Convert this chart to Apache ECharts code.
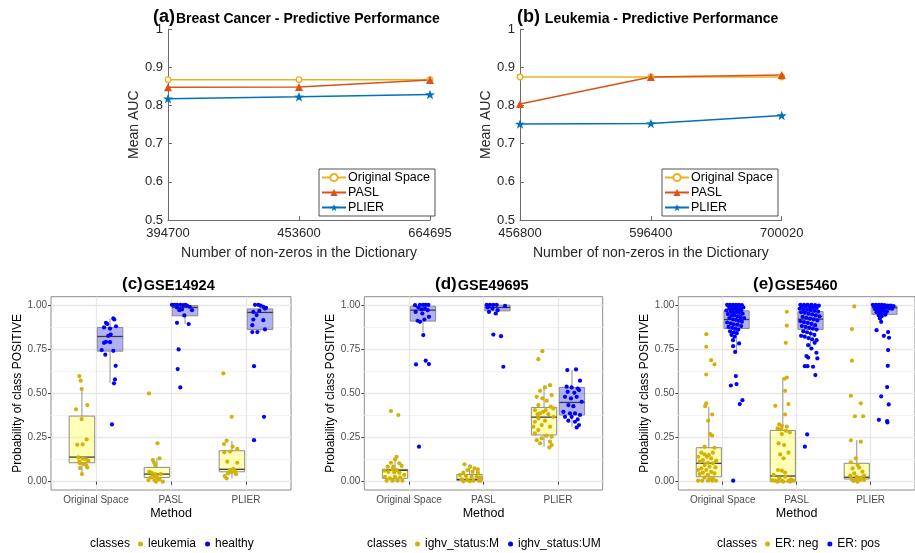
<!DOCTYPE html>
<html>
<head>
<meta charset="utf-8">
<script src="https://cdn.jsdelivr.net/npm/echarts@6/dist/echarts.min.js"></script>
<style>
  html, body { margin: 0; padding: 0; background: #fff; }
  #chart { width: 915px; height: 553px; }
</style>
</head>
<body>
<div id="chart"></div>
<script>
// ---------- (a) Breast cancer: mean AUC vs. dictionary non-zeros ----------
const breastTicks = ['394700', '453600', '664695'];
const breastOriginal = [0.868, 0.868, 0.868];
const breastPasl = [0.848, 0.849, 0.867];
const breastPlier = [0.818, 0.823, 0.829];

// ---------- (b) Leukemia: mean AUC vs. dictionary non-zeros ----------
const leukTicks = ['456800', '596400', '700020'];
const leukOriginal = [0.875, 0.875, 0.875];
const leukPasl = [0.804, 0.875, 0.880];
const leukPlier = [0.752, 0.753, 0.774];

// ---------- shared bits of the box panels ----------
const methods = ['Original Space', 'PASL', 'PLIER'];
const probTicks = [0, 0.25, 0.5, 0.75, 1];
const probMinorTicks = [0.125, 0.375, 0.625, 0.875];

// box stats per method: [lower whisker, q1, median, q3, upper whisker]
// points per method: [jittered x position, probability]

// ---------- (c) GSE14924 ----------
const gse14924LeukemiaBox = [[0.047, 0.107, 0.139, 0.371, 0.527], [0, 0.024, 0.043, 0.081, 0.132], [0.019, 0.056, 0.07, 0.175, 0.232]];
const gse14924HealthyBox = [[0.556, 0.738, 0.821, 0.872, 0.923], [0.891, 0.938, 0.985, 0.996, 1.0], [0.846, 0.861, 0.957, 0.977, 1.0]];
const gse14924Leukemia = [
  [[0.778,0.597],[0.796,0.571],[0.809,0.524],[0.733,0.409],[0.884,0.433],[0.809,0.354],[0.876,0.239],[0.751,0.209],[0.822,0.211],[0.764,0.137],[0.822,0.130],[0.867,0.126],[0.898,0.119],[0.778,0.113],[0.787,0.104],[0.84,0.10],[0.787,0.077],[0.867,0.094],[0.884,0.081],[0.813,0.043]],
  [[1.707,0.499],[1.82,0.217],[1.847,0.132],[1.758,0.122],[1.776,0.107],[1.789,0.094],[1.711,0.056],[1.742,0.051],[1.787,0.043],[1.809,0.032],[1.756,0.028],[1.847,0.013],[1.891,0.0],[1.778,0.009],[1.827,0.019],[1.733,0.024],[1.864,0.043],[1.7,0.009],[1.80,0.0]],
  [[2.698,0.612],[2.809,0.367],[2.742,0.232],[2.707,0.213],[2.822,0.198],[2.884,0.185],[2.711,0.166],[2.787,0.17],[2.751,0.113],[2.884,0.107],[2.787,0.066],[2.831,0.072],[2.853,0.06],[2.809,0.053],[2.867,0.043],[2.76,0.047],[2.716,0.032],[2.742,0.019]]
];
const gse14924Healthy = [
  [[1.231,0.923],[1.244,0.917],[1.133,0.898],[1.151,0.891],[1.107,0.872],[1.187,0.866],[1.267,0.879],[1.164,0.825],[1.196,0.832],[1.107,0.785],[1.133,0.791],[1.187,0.789],[1.076,0.744],[1.231,0.740],[1.124,0.718],[1.262,0.655],[1.253,0.578],[1.24,0.556],[1.213,0.324]],
  [[2.013,1.0],[2.044,1.0],[2.08,1.0],[2.124,1.0],[2.16,0.998],[2.191,1.0],[2.213,0.996],[2.249,0.989],[2.28,0.97],[2.08,0.985],[2.147,0.974],[2.111,0.97],[2.178,0.94],[2.236,0.891],[2.08,0.898],[2.102,0.748],[2.089,0.637],[2.124,0.533]],
  [[3.12,1.0],[3.164,1.0],[3.196,0.996],[3.231,0.989],[3.267,0.983],[3.098,0.96],[3.178,0.966],[3.253,0.979],[3.142,0.942],[3.098,0.917],[3.231,0.913],[3.084,0.885],[3.253,0.861],[3.084,0.846],[3.151,0.846],[3.107,0.653],[3.24,0.367],[3.107,0.235]]
];

// ---------- (d) GSE49695 ----------
const gse49695MBox = [[0, 0.019, 0.064, 0.07, 0.132], [0, 0.006, 0.013, 0.041, 0.098], [0.198, 0.264, 0.365, 0.42, 0.546]];
const gse49695UMBox = [[0.844, 0.908, 0.97, 0.992, 1.0], [0.94, 0.966, 0.985, 0.998, 1.0], [0.311, 0.377, 0.448, 0.533, 0.631]];
const gse49695M = [
  [[0.758,0.399],[0.857,0.377],[0.758,0.107],[0.812,0.126],[0.834,0.141],[0.87,0.104],[0.714,0.085],[0.79,0.085],[0.902,0.089],[0.776,0.07],[0.834,0.066],[0.723,0.056],[0.803,0.053],[0.87,0.051],[0.678,0.028],[0.745,0.019],[0.812,0.028],[0.879,0.024],[0.70,0.006],[0.776,0.006],[0.848,0.006],[0.911,0.006],[0.937,0.038],[0.669,0.062]],
  [[1.745,0.098],[1.821,0.085],[1.879,0.075],[1.924,0.07],[1.785,0.066],[1.852,0.056],[1.73,0.051],[1.924,0.051],[1.685,0.038],[1.765,0.032],[1.841,0.028],[1.908,0.028],[1.953,0.024],[1.707,0.013],[1.783,0.009],[1.863,0.006],[1.939,0.006],[1.96,0.006],[1.73,0.002],[1.819,0.002]],
  [[2.79,0.738],[2.736,0.693],[2.893,0.546],[2.826,0.533],[2.759,0.514],[2.915,0.49],[2.714,0.48],[2.79,0.471],[2.848,0.458],[2.736,0.433],[2.902,0.424],[2.69,0.405],[2.803,0.395],[2.759,0.386],[2.87,0.382],[2.937,0.367],[2.736,0.358],[2.69,0.339],[2.826,0.345],[2.781,0.32],[2.893,0.311],[2.736,0.292],[2.69,0.273],[2.848,0.26],[2.915,0.254],[2.781,0.245],[2.714,0.235],[2.893,0.226],[2.759,0.217],[2.915,0.207],[2.883,0.194],[2.835,0.405],[2.727,0.382],[2.937,0.414],[2.669,0.311]]
];
const gse49695UM = [
  [[1.081,0.998],[1.148,1.0],[1.192,1.0],[1.224,1.0],[1.26,1.0],[1.125,0.985],[1.17,0.974],[1.215,0.979],[1.251,0.97],[1.089,0.96],[1.179,0.951],[1.268,0.932],[1.116,0.91],[1.148,0.904],[1.206,0.917],[1.192,0.829],[1.224,0.684],[1.268,0.665],[1.094,0.663],[1.134,0.198]],
  [[2.043,1.0],[2.087,1.0],[2.132,1.0],[2.177,1.0],[2.289,0.994],[2.056,0.985],[2.119,0.979],[2.19,0.97],[2.074,0.96],[2.163,0.951],[2.132,0.832],[2.235,0.823],[2.266,0.65]],
  [[3.125,0.631],[3.242,0.635],[3.295,0.571],[3.116,0.537],[3.183,0.533],[3.264,0.527],[3.13,0.508],[3.219,0.503],[3.282,0.518],[3.094,0.48],[3.174,0.471],[3.251,0.48],[3.318,0.452],[3.139,0.433],[3.206,0.427],[3.072,0.395],[3.161,0.386],[3.228,0.386],[3.295,0.377],[3.094,0.367],[3.183,0.367],[3.264,0.352],[3.139,0.345],[3.228,0.339],[3.282,0.32],[3.251,0.307]]
];

// ---------- (e) GSE5460 ----------
const gse5460NegBox = [[0, 0.028, 0.104, 0.192, 0.424], [0, 0, 0.032, 0.29, 0.588], [0.004, 0.015, 0.025, 0.104, 0.234]];
const gse5460PosBox = [[0.734, 0.866, 0.917, 0.966, 1.0], [0.744, 0.861, 0.919, 0.962, 1.0], [0.93, 0.946, 0.983, 0.993, 0.998]];
const gse5460Neg = [
  [[0.778,0.834],[0.778,0.763],[0.844,0.687],[0.889,0.663],[0.778,0.606],[0.778,0.443],[0.764,0.427],[0.804,0.345],[0.858,0.38],[0.831,0.269],[0.858,0.26],[0.756,0.198],[0.889,0.192],[0.711,0.164],[0.756,0.154],[0.813,0.151],[0.867,0.164],[0.667,0.141],[0.787,0.141],[0.844,0.132],[0.733,0.122],[0.911,0.119],[0.689,0.113],[0.8,0.107],[0.867,0.104],[0.756,0.094],[0.822,0.085],[0.711,0.075],[0.902,0.081],[0.667,0.066],[0.778,0.066],[0.844,0.056],[0.733,0.051],[0.889,0.047],[0.689,0.043],[0.8,0.038],[0.756,0.024],[0.867,0.019],[0.667,0.006],[0.724,0.006],[0.8,0.006],[0.858,0.006],[0.911,0.006],[0.822,0.013]],
  [[1.867,0.961],[1.867,0.883],[1.853,0.785],[1.867,0.589],[1.836,0.582],[1.711,0.429],[1.889,0.439],[1.844,0.514],[1.844,0.38],[1.764,0.324],[1.8,0.316],[1.867,0.311],[1.742,0.301],[1.787,0.296],[1.853,0.288],[1.907,0.279],[1.8,0.269],[1.756,0.217],[1.831,0.207],[1.778,0.154],[1.889,0.164],[1.822,0.132],[1.747,0.066],[1.8,0.062],[1.844,0.051],[1.689,0.038],[1.764,0.019],[1.711,0.006],[1.8,0.006],[1.889,0.006],[1.956,0.006],[1.667,0.009],[1.844,0.028],[1.924,0.013],[1.742,0.0],[1.82,0.0],[1.911,0.0]],
  [[2.779,0.991],[2.747,0.863],[2.747,0.684],[2.733,0.486],[2.867,0.443],[2.787,0.37],[2.899,0.37],[2.733,0.234],[2.867,0.226],[2.8,0.132],[2.733,0.11],[2.823,0.094],[2.756,0.075],[2.845,0.079],[2.889,0.057],[2.779,0.047],[2.725,0.034],[2.813,0.028],[2.867,0.023],[2.912,0.034],[2.743,0.015],[2.8,0.01],[2.859,0.01],[2.912,0.01],[2.769,0.004],[2.823,0.0]]
];
const gse5460Pos = [
  [[1.06,1.0],[1.10,1.0],[1.14,1.0],[1.18,1.0],[1.22,1.0],[1.26,0.998],[1.08,0.995],[1.12,0.993],[1.16,0.99],[1.20,0.992],[1.24,0.988],[1.28,0.985],[1.09,0.98],[1.13,0.975],[1.17,0.978],[1.21,0.972],[1.25,0.97],[1.05,0.968],[1.11,0.962],[1.15,0.958],[1.19,0.96],[1.23,0.955],[1.27,0.95],[1.07,0.948],[1.12,0.94],[1.16,0.942],[1.2,0.935],[1.24,0.93],[1.29,0.925],[1.09,0.925],[1.14,0.918],[1.18,0.915],[1.22,0.91],[1.26,0.905],[1.06,0.9],[1.11,0.895],[1.15,0.89],[1.2,0.888],[1.25,0.88],[1.08,0.875],[1.13,0.87],[1.17,0.865],[1.21,0.86],[1.1,0.85],[1.15,0.845],[1.19,0.84],[1.12,0.83],[1.16,0.82],[1.14,0.8],[1.222,0.782],[1.142,0.766],[1.169,0.734],[1.178,0.597],[1.187,0.552],[1.111,0.544],[1.267,0.461],[1.231,0.439],[1.142,0.006]],
  [[2.05,1.0],[2.1,1.0],[2.15,1.0],[2.2,1.0],[2.25,0.998],[2.3,0.995],[2.07,0.99],[2.12,0.992],[2.17,0.988],[2.22,0.985],[2.27,0.982],[2.04,0.978],[2.09,0.975],[2.14,0.972],[2.19,0.97],[2.24,0.966],[2.29,0.962],[2.06,0.958],[2.11,0.955],[2.16,0.95],[2.21,0.946],[2.26,0.94],[2.31,0.935],[2.08,0.932],[2.13,0.928],[2.18,0.922],[2.23,0.918],[2.28,0.912],[2.05,0.908],[2.1,0.902],[2.15,0.898],[2.2,0.892],[2.25,0.885],[2.07,0.88],[2.12,0.875],[2.17,0.87],[2.22,0.865],[2.27,0.86],[2.09,0.85],[2.14,0.845],[2.19,0.838],[2.24,0.83],[2.06,0.825],[2.11,0.82],[2.16,0.812],[2.21,0.805],[2.27,0.8],[2.244,0.785],[2.156,0.772],[2.2,0.753],[2.267,0.729],[2.133,0.71],[2.156,0.702],[2.28,0.697],[2.111,0.653],[2.147,0.653],[2.222,0.65],[2.253,0.603],[2.142,0.267],[2.111,0.198]],
  [[3.03,1.0],[3.07,1.0],[3.11,1.0],[3.15,1.0],[3.19,0.998],[3.23,0.996],[3.27,0.995],[3.31,0.993],[3.05,0.992],[3.09,0.99],[3.13,0.988],[3.17,0.985],[3.21,0.983],[3.25,0.98],[3.29,0.978],[3.06,0.975],[3.1,0.972],[3.14,0.97],[3.18,0.966],[3.22,0.962],[3.08,0.958],[3.12,0.954],[3.16,0.95],[3.2,0.945],[3.11,0.94],[3.15,0.935],[3.13,0.93],[3.125,0.923],[3.143,0.904],[3.08,0.857],[3.236,0.846],[3.179,0.825],[3.249,0.814],[3.236,0.744],[3.232,0.655],[3.223,0.535],[3.143,0.482],[3.245,0.437],[3.112,0.35],[3.223,0.343],[3.227,0.335]]
];

// ---------------------------------------------------------------------------
const FONT = '"Liberation Sans", Arial, Helvetica, sans-serif';
const TEXT = '#262626';
const STAR = 'path://M0,-10 L2.35,-3.24 L9.51,-3.09 L3.8,1.24 L5.88,8.09 L0,4 L-5.88,8.09 L-3.8,1.24 L-9.51,-3.09 L-2.35,-3.24 Z';
const C_ORIG = '#EDB120', C_PASL = '#D95319', C_PLIER = '#0072BD';
const GOLD = '#D4B00A', BLUE = '#0000FF';

const option = {
  animation: false,
  backgroundColor: '#fff',
  textStyle: { fontFamily: FONT },
  title: [], legend: [], grid: [], xAxis: [], yAxis: [], series: []
};

// ---------- line panels ----------
function addLinePanel(spec) {
  const gi = option.grid.length;
  option.grid.push({ left: spec.left, top: 29.3, width: spec.width, height: 190.7, containLabel: false });
  option.xAxis.push({
    type: 'category', gridIndex: gi, data: spec.ticks, boundaryGap: false,
    name: 'Number of non-zeros in the Dictionary', nameLocation: 'middle', nameGap: 26,
    nameTextStyle: { fontSize: 14, color: TEXT },
    axisLine: { lineStyle: { color: '#6b6b6b', width: 1 } },
    axisTick: { inside: true, length: 4, lineStyle: { color: '#6b6b6b' } },
    axisLabel: { fontSize: 13, color: TEXT, margin: 7, showMaxLabel: true, showMinLabel: true, interval: 0 },
    splitLine: { show: false }
  });
  option.yAxis.push({
    type: 'value', gridIndex: gi, min: 0.5, max: 1, interval: 0.1,
    name: 'Mean AUC', nameLocation: 'middle', nameGap: 23,
    nameTextStyle: { fontSize: 14, color: TEXT },
    axisLine: { show: true, lineStyle: { color: '#6b6b6b', width: 1 } },
    axisTick: { show: true, inside: true, length: 4, lineStyle: { color: '#6b6b6b' } },
    axisLabel: { fontSize: 13, color: TEXT, margin: 5, formatter: v => String(+v.toFixed(1)) },
    splitLine: { show: false }
  });
  const mk = (name, data, color, symbol, size, empty) => ({
    type: 'line', name, data, xAxisIndex: gi, yAxisIndex: gi,
    symbol, symbolSize: size, symbolKeepAspect: true,
    lineStyle: { color, width: 1.5 },
    itemStyle: { color: empty ? '#fff' : color, borderColor: color, borderWidth: empty ? 1.3 : 0 },
    z: 3
  });
  option.series.push(
    mk('Original Space', spec.orig, C_ORIG, 'circle', 5.5, true),
    mk('PASL', spec.pasl, C_PASL, 'triangle', 8, false),
    mk('PLIER', spec.plier, C_PLIER, STAR, 10, false)
  );
  option.title.push({
    text: '{l|' + spec.tag + '}{t|' + spec.title + '}',
    left: spec.titleLeft, top: 3,
    textStyle: { rich: {
      l: { fontSize: 18, fontWeight: 'bold', color: '#000', fontFamily: FONT },
      t: { fontSize: 14, fontWeight: 'bold', color: '#000', fontFamily: FONT, padding: [4, 0, 0, 1] }
    } }
  });
  option.legend.push({
    orient: 'vertical', left: spec.legendLeft, top: 169,
    data: ['Original Space', 'PASL', 'PLIER'],
    itemWidth: 24, itemHeight: 9, itemGap: 2, padding: [2, 5, 2, 2],
    borderColor: '#262626', borderWidth: 0.8, backgroundColor: '#fff',
    textStyle: { fontSize: 12.5, color: '#000', padding: [0, 0, 0, -3] },
    selectedMode: false
  });
}

addLinePanel({ left: 168, width: 262, ticks: breastTicks, orig: breastOriginal, pasl: breastPasl, plier: breastPlier,
  tag: '(a)', title: 'Breast Cancer - Predictive Performance', titleLeft: 148, legendLeft: 319 });
addLinePanel({ left: 520, width: 261.7, ticks: leukTicks, orig: leukOriginal, pasl: leukPasl, plier: leukPlier,
  tag: '(b)', title: ' Leukemia - Predictive Performance', titleLeft: 512, legendLeft: 662 });

// ---------- box + jitter panels ----------
const BOX_HALF = 0.17;
function boxRenderer(fill) {
  return function (params, api) {
    const x = api.value(0), lo = api.value(1), q1 = api.value(2), med = api.value(3), q3 = api.value(4), hi = api.value(5);
    const tl = api.coord([x - BOX_HALF, q3]);
    const br = api.coord([x + BOX_HALF, q1]);
    const top = api.coord([x, hi]), qt = api.coord([x, q3]);
    const bot = api.coord([x, lo]), qb = api.coord([x, q1]);
    const ml = api.coord([x - BOX_HALF, med]), mr = api.coord([x + BOX_HALF, med]);
    const wStyle = { stroke: '#9a9a9a', lineWidth: 1.1 };
    return {
      type: 'group',
      children: [
        { type: 'line', shape: { x1: top[0], y1: top[1], x2: qt[0], y2: qt[1] }, style: wStyle },
        { type: 'line', shape: { x1: bot[0], y1: bot[1], x2: qb[0], y2: qb[1] }, style: wStyle },
        { type: 'rect', shape: { x: tl[0], y: tl[1], width: br[0] - tl[0], height: br[1] - tl[1] },
          style: { fill, stroke: '#8a8a8a', lineWidth: 1 } },
        { type: 'line', shape: { x1: ml[0], y1: ml[1], x2: mr[0], y2: mr[1] }, style: { stroke: '#3a3a3a', lineWidth: 1.3 } }
      ]
    };
  };
}

function addBoxPanel(spec) {
  const gi = option.grid.length;
  const xi = option.xAxis.length;
  const yi = option.yAxis.length;
  option.grid.push({ left: spec.left, top: 296.7, width: spec.width, height: 193.3,
    show: true, backgroundColor: '#fff', borderColor: '#8c8c8c', borderWidth: 1 });
  option.xAxis.push({
    type: 'value', gridIndex: gi, min: 0.4, max: 3.6,
    name: 'Method', nameLocation: 'middle', nameGap: 17,
    nameTextStyle: { fontSize: 12.5, color: '#000' },
    axisLine: { show: false },
    axisTick: { show: true, length: 3, customValues: [1, 2, 3], lineStyle: { color: '#444' } },
    axisLabel: { fontSize: 10, color: '#4D4D4D', margin: 5, customValues: [1, 2, 3],
      formatter: v => methods[Math.round(v) - 1] || '' },
    splitLine: { show: true, lineStyle: { color: '#E8E8E8', width: 1.3 } }
  });
  option.yAxis.push({
    type: 'value', gridIndex: gi, min: -0.047, max: 1.046,
    name: 'Probability of class POSITIVE', nameLocation: 'middle', nameGap: 27,
    nameTextStyle: { fontSize: 12, color: '#000' },
    axisLine: { show: false },
    axisTick: { show: true, length: 3, customValues: probTicks, lineStyle: { color: '#444' } },
    axisLabel: { fontSize: 10, color: '#4D4D4D', margin: 4, customValues: probTicks, formatter: v => v.toFixed(2) },
    splitLine: { show: true, lineStyle: { color: '#E8E8E8', width: 1.3 } }
  });
  option.yAxis.push({
    type: 'value', gridIndex: gi, min: -0.047, max: 1.046, position: 'left',
    axisLine: { show: false },
    axisTick: { show: false, customValues: probMinorTicks },
    axisLabel: { show: false, customValues: probMinorTicks },
    splitLine: { show: true, lineStyle: { color: '#F2F2F2', width: 1 } }
  });
  const sides = [-0.1875, 0.1875];
  const fills = ['rgba(255,255,60,0.38)', 'rgba(40,40,230,0.36)'];
  const colors = [GOLD, BLUE];
  for (let k = 0; k < 2; k++) {
    option.series.push({
      type: 'custom', name: spec.classes[k] + ' box', xAxisIndex: xi, yAxisIndex: yi,
      renderItem: boxRenderer(fills[k]),
      encode: { x: 0, y: [1, 2, 3, 4, 5] },
      data: spec.boxes[k].map((b, m) => [m + 1 + sides[k]].concat(b)),
      z: 2, silent: true
    });
  }
  for (let k = 0; k < 2; k++) {
    option.series.push({
      type: 'scatter', name: spec.classes[k], xAxisIndex: xi, yAxisIndex: yi,
      data: [].concat(...spec.points[k]),
      symbol: 'circle', symbolSize: 4.2,
      itemStyle: { color: colors[k], opacity: 1 },
      z: 4
    });
  }
  option.title.push({
    text: '{l|' + spec.tag + '}{t|' + spec.name + '}',
    left: spec.titleLeft, top: 270,
    textStyle: { rich: {
      l: { fontSize: 17, fontWeight: 'bold', color: '#000', fontFamily: FONT },
      t: { fontSize: 14.5, color: '#000', fontFamily: FONT, padding: [3, 0, 0, 1] }
    } }
  });
  option.title.push({
    text: 'classes', left: spec.legendLeft - 5, top: 532,
    textStyle: { fontSize: 12, fontWeight: 'normal', color: '#000', fontFamily: FONT, lineHeight: 14 }
  });
  option.legend.push({
    left: spec.legendLeft + 43, top: 532,
    data: spec.classes,
    icon: 'circle', itemWidth: 5, itemHeight: 5, itemGap: 9,
    textStyle: { fontSize: 12, color: '#000', lineHeight: 14 },
    selectedMode: false
  });
}

addBoxPanel({ left: 51, width: 240, tag: '(c)', name: 'GSE14924', titleLeft: 117,
  classes: ['leukemia', 'healthy'], boxes: [gse14924LeukemiaBox, gse14924HealthyBox],
  points: [gse14924Leukemia, gse14924Healthy], legendLeft: 90 });
addBoxPanel({ left: 364.3, width: 238.4, tag: '(d)', name: 'GSE49695', titleLeft: 430,
  classes: ['ighv_status:M', 'ighv_status:UM'], boxes: [gse49695MBox, gse49695UMBox],
  points: [gse49695M, gse49695UM], legendLeft: 367 });
addBoxPanel({ left: 678.3, width: 240, tag: '(e)', name: 'GSE5460', titleLeft: 748,
  classes: ['ER: neg', 'ER: pos'], boxes: [gse5460NegBox, gse5460PosBox],
  points: [gse5460Neg, gse5460Pos], legendLeft: 717 });

const chart = echarts.init(document.getElementById('chart'), null, { renderer: 'canvas' });
chart.setOption(option);
</script>
</body>
</html>
